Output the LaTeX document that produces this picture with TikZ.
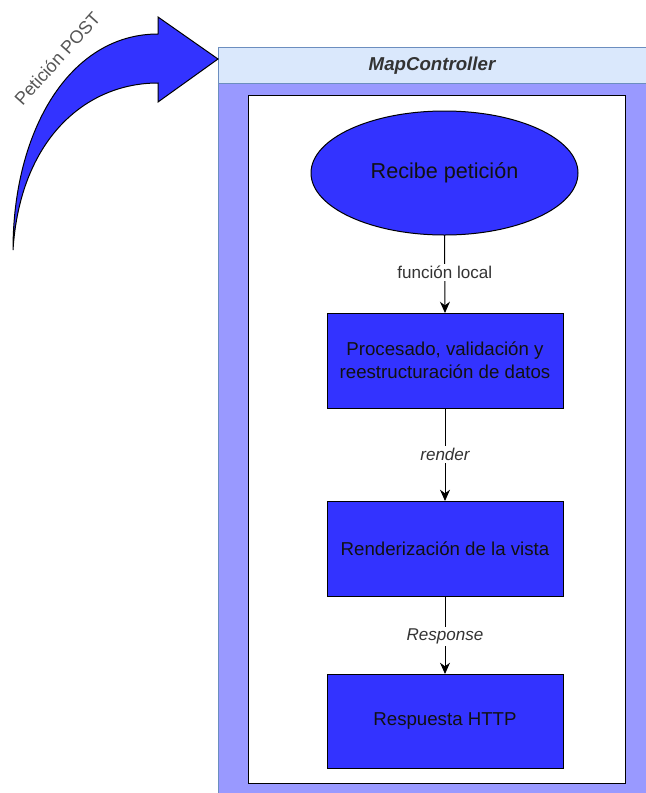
\documentclass[tikz,border=0pt]{standalone}
\usepackage{fontspec}
\setmainfont{Liberation Sans}
\usetikzlibrary{arrows.meta,shapes.geometric}
\definecolor{boxblue}{HTML}{3333FF}
\definecolor{lanefill}{HTML}{9999FF}
\definecolor{headfill}{HTML}{DAE8FC}
\definecolor{headline}{HTML}{6C8EBF}
\definecolor{labelgray}{HTML}{333333}
\definecolor{postgray}{HTML}{555555}
\definecolor{textdark}{HTML}{111111}
\tikzset{
  procbox/.style={draw=black, line width=0.75pt, fill=boxblue, rectangle, minimum width=177pt, minimum height=71.25pt, inner sep=0pt, outer sep=0pt, text=textdark, align=center, font=\fontsize{14pt}{17pt}\selectfont},
  startell/.style={draw=black, line width=0.75pt, fill=boxblue, ellipse, minimum width=200.25pt, minimum height=93pt, inner sep=0pt, outer sep=0pt, text=textdark, font=\fontsize{16.2pt}{19pt}\selectfont},
  flowarrow/.style={draw=black, line width=0.75pt, -{Stealth[length=8.5pt,width=7.5pt]}},
  edgelabel/.style={fill=white, inner sep=1.5pt, text=labelgray, font=\fontsize{12.8pt}{15pt}\selectfont},
}
\begin{document}
\begin{tikzpicture}[x=0.75pt,y=-0.75pt]
\useasboundingbox (0,0) rectangle (646,793);
% swimlane
\fill[lanefill] (218,83) rectangle (660,810);
\draw[headline, line width=0.75pt, fill=headfill] (218,47) rectangle (660,83);
\draw[headline, line width=0.75pt] (218,83) -- (218,810);
\node (lanetitle) at (432,65.5) {\fontsize{14pt}{17pt}\selectfont\bfseries\itshape\color{labelgray}MapController};
% inner white frame
\node[draw=black, line width=0.75pt, fill=white, minimum width=282.75pt, minimum height=516pt, inner sep=0pt] (frame) at (436.5,439) {};
% nodes
\node[startell] (recibe) at (444.5,173) {Recibe petición};
\node[procbox] (proc) at (445,360.5) {Procesado, validación y\\reestructuración de datos};
\node[procbox] (render) at (445,548.5) {Renderización de la vista};
\node[procbox, minimum height=70.5pt] (resp) at (445,721) {Respuesta HTTP};
% connectors
\draw[flowarrow] (recibe.south) -- node[edgelabel, pos=0.48] {función local} (proc.north);
\draw[flowarrow] (proc.south) -- node[edgelabel, pos=0.5] {\itshape render} (render.north);
\draw[flowarrow] (render.south) -- node[edgelabel, pos=0.52] {\itshape Response} (resp.north);
% curved arrow
\draw[black, line width=0.75pt, fill=boxblue, line join=miter]
  (13,250) .. controls (13,130) and (70,34) .. (158,34)
  -- (158,17) -- (218,59) -- (158,102) -- (158,83)
  .. controls (85,83) and (20,140) .. (13,250) -- cycle;
\node[anchor=base, rotate=48, text=postgray, inner sep=0pt, font=\fontsize{13.5pt}{16pt}\selectfont] (post) at (62,63) {Petición POST};
\end{tikzpicture}
\end{document}
